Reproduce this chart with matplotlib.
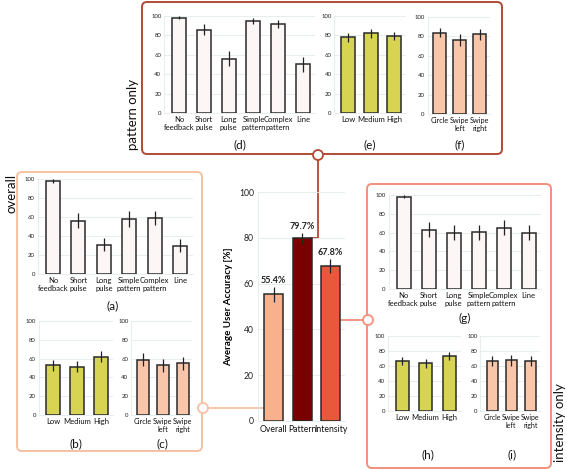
import matplotlib
matplotlib.use("Agg")
import matplotlib.pyplot as plt
from matplotlib.patches import FancyBboxPatch, Circle
import numpy as np

plt.rcParams['font.family'] = ['Lato', 'DejaVu Sans']

# ---------------- data ----------------
fb_cats = ['No\nfeedback', 'Short\npulse', 'Long\npulse', 'Simple\npattern', 'Complex\npattern', 'Line']
int_cats = ['Low', 'Medium', 'High']
gest_cats = ['Circle', 'Swipe\nleft', 'Swipe\nright']
main_cats = ['Overall', 'Pattern', 'Intensity']

a_vals = [98, 56, 31, 58, 59, 30];      a_err = [2, 8, 7, 8, 7, 7]
b_vals = [53, 51.5, 62];                b_err = [6, 6, 6]
c_vals = [59, 53, 55];                  c_err = [7, 7, 7]
d_vals = [98, 86, 56, 95, 92, 50];      d_err = [1.5, 5.5, 8, 3, 4, 7.5]
e_vals = [78, 82, 79.5];                e_err = [4.5, 4.5, 4.5]
f_vals = [84, 76, 82];                  f_err = [5, 6, 5.5]
g_vals = [98, 63, 60, 60.5, 65, 60];    g_err = [1.5, 8, 8, 8, 8, 8]
h_vals = [66.5, 63.5, 73.5];            h_err = [5.5, 5.5, 5]
i_vals = [67, 67.5, 66.5];              i_err = [7, 7, 7]
main_vals = [55.4, 79.7, 67.8];         main_err = [3.3, 2.6, 3.0]
main_labels = ['55.4%', '79.7%', '67.8%']

W, H = 567, 470
fig = plt.figure(figsize=(W / 100, H / 100), dpi=100)

# overlay axes in pixel coordinates
ov = fig.add_axes([0, 0, 1, 1], zorder=0)
ov.set_xlim(0, W); ov.set_ylim(H, 0); ov.axis('off')
ov.patch.set_alpha(0)

WHITE = '#fcf6f6'
YEL = '#d6d452'
PEACH = '#f9c6aa'
EDGE = '#2a2a2a'
GRID = '#e3ebeb'


def panel(cats, vals, errs, c0, s, bw, y0, y100, color, tfs=4.3, cfs=5.5, pad=2.5):
    n = len(vals)
    left = c0 - 0.6 * s
    right = c0 + (n - 1) * s + 0.5 * s
    ax = fig.add_axes([left / W, 1 - y0 / H, (right - left) / W, (y0 - y100) / H], zorder=2)
    ax.patch.set_alpha(0)
    x = np.arange(n)
    ax.bar(x, vals, width=bw / s, color=color, edgecolor=EDGE, linewidth=1.1, zorder=3)
    ax.errorbar(x, vals, yerr=errs, fmt='none', ecolor='#222222', elinewidth=0.9, capsize=0, zorder=4)
    ax.set_xlim(-0.6, n - 0.5)
    ax.set_ylim(0, 100)
    ax.set_yticks([0, 20, 40, 60, 80, 100])
    ax.yaxis.grid(True, color=GRID, linewidth=0.6, zorder=0)
    ax.set_xticks(x)
    ax.set_xticklabels(cats, fontsize=cfs, linespacing=1.05)
    ax.tick_params(axis='y', labelsize=tfs, length=0, pad=2, labelcolor='#222222')
    ax.tick_params(axis='x', length=0, pad=pad, labelcolor='#111111')
    for sp in ['top', 'right']:
        ax.spines[sp].set_visible(False)
    ax.spines['left'].set_color(GRID)
    ax.spines['bottom'].set_color(GRID)
    ax.spines['left'].set_linewidth(0.6)
    ax.spines['bottom'].set_linewidth(0.6)
    return ax


# ---------------- boxes ----------------
def box(x0, y0, x1, y1, color, lw=1.4):
    p = FancyBboxPatch((x0, y0), x1 - x0, y1 - y0, boxstyle='round,pad=0,rounding_size=5',
                       fill=False, edgecolor=color, linewidth=lw, zorder=1)
    ov.add_patch(p)

PAT_C = '#b04a35'
OVR_C = '#f7c0a2'
INT_C = '#f2907a'

box(142, 2, 502, 154, PAT_C)
box(17, 172, 202, 451, OVR_C)
box(367, 184, 551, 468, INT_C)

# connectors
ov.plot([318, 318, 311], [159, 238, 238], color=PAT_C, lw=1.3, zorder=1)
ov.add_patch(Circle((318, 155), 5, facecolor='white', edgecolor=PAT_C, lw=1.3, zorder=5))
ov.plot([208, 264], [408, 408], color=OVR_C, lw=1.3, zorder=1)
ov.add_patch(Circle((203, 408), 5, facecolor='white', edgecolor=OVR_C, lw=1.3, zorder=5))
ov.plot([340, 363], [320, 320], color=INT_C, lw=1.3, zorder=1)
ov.add_patch(Circle((368, 320), 5, facecolor='white', edgecolor=INT_C, lw=1.3, zorder=5))

# side titles
ov.text(133, 114, 'pattern only', rotation=90, ha='center', va='center', fontsize=9.5, color='#111111')
ov.text(11, 193, 'overall', rotation=90, ha='center', va='center', fontsize=9.5, color='#111111')
ov.text(560, 423, 'intensity only', rotation=90, ha='center', va='center', fontsize=9.5, color='#111111')

# ---------------- panels ----------------
panel(fb_cats, a_vals, a_err, 53, 25.4, 14, 274, 179, WHITE)
panel(int_cats, b_vals, b_err, 53, 24, 14, 415, 321, YEL)
panel(gest_cats, c_vals, c_err, 143, 19.75, 12, 415, 321, PEACH, cfs=5.2)
panel(fb_cats, d_vals, d_err, 179, 24.8, 14, 113, 16, WHITE)
panel(int_cats, e_vals, e_err, 348, 23, 14, 113, 16, YEL)
panel(gest_cats, f_vals, f_err, 439.5, 20, 12.5, 114, 17, PEACH, cfs=5.2)
panel(fb_cats, g_vals, g_err, 403.5, 25, 14, 289, 195, WHITE)
panel(int_cats, h_vals, h_err, 402, 23.5, 13, 411, 336, YEL)
panel(gest_cats, i_vals, i_err, 492, 19.25, 11, 411, 336, PEACH, cfs=5.0)

# panel letters
for lab, x, y in [('(a)', 113, 306), ('(b)', 76, 444), ('(c)', 162, 444),
                  ('(d)', 240, 145), ('(e)', 370, 145), ('(f)', 460, 145),
                  ('(g)', 465, 318), ('(h)', 428, 455), ('(i)', 512, 455)]:
    ov.text(x, y, lab, ha='center', va='center', fontsize=8.5, color='#111111')

# ---------------- main chart ----------------
c0, s = 273.5, 28.5
left, right = 258, 345
y0, y100 = 421, 192
axm = fig.add_axes([left / W, 1 - y0 / H, (right - left) / W, (y0 - y100) / H], zorder=2)
axm.patch.set_alpha(0)
xm = np.arange(3)
axm.bar(xm, main_vals, width=19 / s, color=['#f9b08c', '#7a0000', '#e9583a'],
        edgecolor=EDGE, linewidth=1.1, zorder=3)
axm.errorbar(xm, main_vals, yerr=main_err, fmt='none', ecolor='#222222', elinewidth=0.9, capsize=0, zorder=4)
for xi, v, e, t in zip(xm, main_vals, main_err, main_labels):
    axm.text(xi, v + e + 0.8, t, ha='center', va='bottom', fontsize=6.5, fontweight='bold', color='#222222')
axm.set_xlim(-(c0 - left) / s, 2 + (right - (c0 + 2 * s)) / s)
axm.set_ylim(0, 100)
axm.set_yticks([0, 20, 40, 60, 80, 100])
axm.yaxis.grid(True, color=GRID, linewidth=0.6, zorder=0)
axm.set_xticks(xm)
axm.set_xticklabels(main_cats, fontsize=6.2)
axm.tick_params(axis='y', labelsize=6.2, length=0, pad=3, labelcolor='#222222')
axm.tick_params(axis='x', length=0, pad=3, labelcolor='#111111')
axm.set_ylabel('Average User Accuracy [%]', fontsize=7, fontweight='bold', labelpad=4)
for sp in ['top', 'right']:
    axm.spines[sp].set_visible(False)
for sp in ['left', 'bottom']:
    axm.spines[sp].set_color(GRID)
    axm.spines[sp].set_linewidth(0.6)

fig.savefig('out.png', dpi=100)
